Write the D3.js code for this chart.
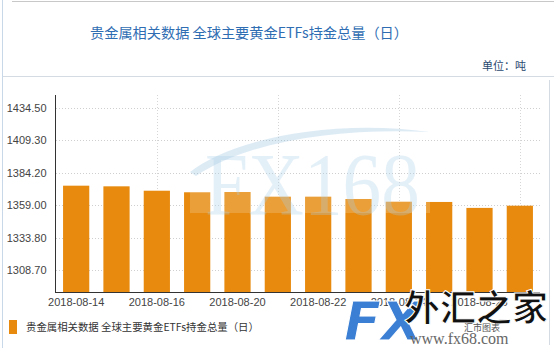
<!DOCTYPE html>
<html>
<head>
<meta charset="utf-8">
<script src="https://cdn.jsdelivr.net/npm/d3@7"></script>
<style>
  body { margin: 0; background: #fff; }
  svg { display: block; }
</style>
</head>
<body>
<script>
// chart values
var dates = ["2018-08-14", "2018-08-15", "2018-08-16", "2018-08-17", "2018-08-20", "2018-08-21",
             "2018-08-22", "2018-08-23", "2018-08-24", "2018-08-27", "2018-08-28", "2018-08-29"];
var holdings = [1374.1, 1373.6, 1370.2, 1369.0, 1369.2, 1365.6, 1365.6, 1363.8, 1361.7, 1361.5, 1356.9, 1358.6];
var yTicks = [1308.70, 1333.80, 1359.00, 1384.20, 1409.30, 1434.50];
var yDomain = [1291.8, 1444.3];
var titleText = "贵金属相关数据 全球主要黄金ETFs持金总量（日）";
var legendText = "贵金属相关数据 全球主要黄金ETFs持金总量（日）";
var unitText = "单位：吨";

window.onload = function () {
    drawChart();
};

function drawChart() {
    var svg = d3.select("body").append("svg").attr("width", 554).attr("height", 348);

    var left = 56, right = 540, top = 95, bottom = 292;
    var barColour = "#e78a0d";
    var font = "'Liberation Sans', Arial, sans-serif";
    var cjk = "'Noto Sans CJK SC', sans-serif";

    // frame lines
    svg.append("line").attr("x1", 2.5).attr("x2", 2.5).attr("y1", 0).attr("y2", 348)
        .attr("stroke", "#c9d8e8");
    svg.append("line").attr("x1", 12).attr("x2", 554).attr("y1", 1.5).attr("y2", 1.5)
        .attr("stroke", "#c8c8c8");
    svg.append("line").attr("x1", 3).attr("x2", 554).attr("y1", 76.5).attr("y2", 76.5)
        .attr("stroke", "#d5dbe2");
    svg.append("line").attr("x1", 549.5).attr("x2", 549.5).attr("y1", 80).attr("y2", 345)
        .attr("stroke", "#d5dbe2");

    // title and unit
    svg.append("text")
        .attr("x", 249).attr("y", 38)
        .attr("text-anchor", "middle")
        .style("font-family", cjk).style("font-size", "14.2px")
        .attr("fill", "#2f6db3")
        .text(titleText);

    svg.append("text")
        .attr("x", 526).attr("y", 70)
        .attr("text-anchor", "end")
        .style("font-family", cjk).style("font-size", "11px")
        .attr("fill", "#2b4a70")
        .text(unitText);

    var xScale = d3.scaleBand()
        .domain(dates)
        .range([left, right])
        .paddingInner(0.35)
        .paddingOuter(0.175);

    var yScale = d3.scaleLinear()
        .domain(yDomain)
        .range([bottom, top]);

    // horizontal dotted grid
    svg.append("g").selectAll("line")
        .data(yTicks)
        .enter().append("line")
        .attr("x1", left).attr("x2", right)
        .attr("y1", function (d) { return Math.round(yScale(d)) + 0.5; })
        .attr("y2", function (d) { return Math.round(yScale(d)) + 0.5; })
        .attr("stroke", "#cfcfcf")
        .attr("stroke-dasharray", "1,2");

    // vertical dotted grid, every third category
    var vGrid = dates.filter(function (d, i) { return i % 3 === 2; });
    svg.append("g").selectAll("line")
        .data(vGrid)
        .enter().append("line")
        .attr("x1", function (d) { return Math.round(xScale(d) + xScale.bandwidth() / 2) + 0.5; })
        .attr("x2", function (d) { return Math.round(xScale(d) + xScale.bandwidth() / 2) + 0.5; })
        .attr("y1", top).attr("y2", bottom)
        .attr("stroke", "#d6d6d6")
        .attr("stroke-dasharray", "1,2");

    // bars
    svg.append("g").selectAll("rect")
        .data(holdings)
        .enter().append("rect")
        .attr("x", function (d, i) { return xScale(dates[i]); })
        .attr("width", xScale.bandwidth())
        .attr("y", function (d) { return yScale(d); })
        .attr("height", function (d) { return bottom - yScale(d); })
        .attr("fill", barColour);

    // watermark FX168
    var wm = svg.append("g");
    wm.append("rect")
        .attr("x", 190).attr("y", 192).attr("width", 240).attr("height", 21)
        .attr("fill", "#fff").attr("opacity", 0.18);
    wm.append("path")
        .attr("d", "M190,172 C230,140 330,118 430,132 C340,128 250,140 196,176 Z")
        .attr("fill", "#8fbddf").attr("opacity", 0.3);
    wm.append("text")
        .attr("x", 205).attr("y", 214)
        .attr("textLength", 215).attr("lengthAdjust", "spacingAndGlyphs")
        .style("font-family", "'Liberation Serif', 'DejaVu Serif', serif")
        .style("font-size", "88px")
        .attr("fill", "#a9cfe9").attr("opacity", 0.3)
        .text("FX168");

    // axes
    var yAxis = d3.axisLeft(yScale)
        .tickValues(yTicks)
        .tickSize(0)
        .tickPadding(9)
        .tickFormat(d3.format(".2f"));
    var gy = svg.append("g").attr("transform", "translate(" + (left - 0.5) + ",0)").call(yAxis);
    gy.select(".domain").remove();
    gy.selectAll("text").style("font-family", font).style("font-size", "11px").attr("fill", "#444");
    svg.append("line").attr("x1", left - 0.5).attr("x2", left - 0.5).attr("y1", top).attr("y2", bottom)
        .attr("stroke", "#333");

    var xAxis = d3.axisBottom(xScale)
        .tickValues(dates.filter(function (d, i) { return i % 2 === 0; }))
        .tickSize(0)
        .tickPadding(6);
    var gx = svg.append("g").attr("transform", "translate(0," + bottom + ")").call(xAxis);
    gx.select(".domain").remove();
    gx.selectAll("text").style("font-family", font).style("font-size", "11px").attr("fill", "#444");
    svg.append("line").attr("x1", left - 1).attr("x2", right).attr("y1", bottom + 0.5).attr("y2", bottom + 0.5)
        .attr("stroke", "#333");

    // legend
    svg.append("rect").attr("x", 9).attr("y", 320).attr("width", 8).attr("height", 14).attr("fill", barColour);
    svg.append("text")
        .attr("x", 26).attr("y", 331)
        .style("font-family", cjk).style("font-size", "10.4px")
        .attr("fill", "#333")
        .text(legendText);

    // site logo, bottom right
    var logo = svg.append("g");
    logo.append("text")
        .attr("x", 344).attr("y", 340)
        .style("font-family", "'DejaVu Sans', sans-serif").style("font-weight", "bold")
        .style("font-style", "italic").style("font-size", "54px")
        .attr("fill", "#3b7fd4").attr("stroke", "#fff").attr("stroke-width", 1)
        .text("FX");
    logo.append("text")
        .attr("x", 404).attr("y", 321)
        .style("font-family", "'Noto Sans CJK SC', sans-serif").style("font-weight", "bold")
        .style("font-size", "36px")
        .attr("fill", "#111").attr("stroke", "#fff").attr("stroke-width", 1)
        .text("外汇之家");
    logo.append("text")
        .attr("x", 464).attr("y", 331)
        .style("font-family", cjk).style("font-size", "9px")
        .attr("fill", "#555")
        .text("汇市图表");
    logo.append("text")
        .attr("x", 410).attr("y", 344)
        .style("font-family", "'Liberation Serif', serif").style("font-size", "16px")
        .attr("fill", "#666")
        .text("www.fx68.com");
}
</script>
</body>
</html>
